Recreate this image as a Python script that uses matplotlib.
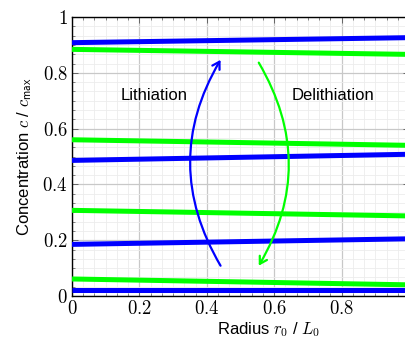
import matplotlib
matplotlib.use("Agg")
import matplotlib.pyplot as plt
from matplotlib.patches import FancyArrowPatch
from matplotlib.ticker import MultipleLocator, AutoMinorLocator

# radius positions and concentration profiles (c / c_max)
radius = [0.0, 1.0]
lithiation = [
    [0.908, 0.926],
    [0.486, 0.508],
    [0.185, 0.205],
    [0.020, 0.020],
]
delithiation = [
    [0.884, 0.866],
    [0.560, 0.540],
    [0.307, 0.287],
    [0.061, 0.040],
]

plt.rcParams['font.family'] = ['Liberation Sans', 'DejaVu Sans']
plt.rcParams['mathtext.fontset'] = 'cm'

fig = plt.figure(figsize=(4.06, 3.40), dpi=100)
ax = fig.add_axes([72 / 406, 44 / 340, 337 / 406, 279 / 340])

for prof in delithiation:
    ax.plot(radius, prof, color='#00ff00', lw=3.6, solid_capstyle='butt', zorder=3)
for prof in lithiation:
    ax.plot(radius, prof, color='#0000ff', lw=3.6, solid_capstyle='butt', zorder=3)

ax.set_xlim(0, 1)
ax.set_ylim(0, 1)
ax.xaxis.set_major_locator(MultipleLocator(0.2))
ax.yaxis.set_major_locator(MultipleLocator(0.2))
ax.xaxis.set_minor_locator(AutoMinorLocator(6))
ax.yaxis.set_minor_locator(AutoMinorLocator(6))
ax.grid(which='major', color='#c8c8c8', lw=0.9, zorder=0)
ax.grid(which='minor', color='#ececec', lw=0.6, zorder=0)
ax.tick_params(which='both', direction='in', top=True, right=True, color='#555555')
ax.tick_params(which='major', length=4, width=0.6)
ax.tick_params(which='minor', length=2.5, width=0.5)

fmt = lambda v, p: r'$\mathrm{%g}$' % round(v, 1)
ax.xaxis.set_major_formatter(plt.FuncFormatter(fmt))
ax.yaxis.set_major_formatter(plt.FuncFormatter(fmt))
for lab in ax.get_xticklabels() + ax.get_yticklabels():
    lab.set_fontsize(13.5)
ax.tick_params(axis='x', pad=3)
ax.tick_params(axis='y', pad=3)

for sp in ax.spines.values():
    sp.set_linewidth(1.0)

ax.set_xlabel(r'Radius $r_0$ / $L_0$', fontsize=12)
ax.xaxis.set_label_coords(0.585, -0.085)
ax.set_ylabel(r'Concentration $c$ / $c_{\mathsf{max}}$', fontsize=12, labelpad=6)

ax.text(0.245, 0.717, 'Lithiation', fontsize=12, ha='center', va='center')
ax.text(0.775, 0.717, 'Delithiation', fontsize=12, ha='center', va='center')

ax.add_patch(FancyArrowPatch((0.445, 0.10), (0.445, 0.855),
                             connectionstyle='arc3,rad=-0.3', arrowstyle='->,head_length=5,head_width=3',
                             color='#0000ff', lw=1.6, zorder=4))
ax.add_patch(FancyArrowPatch((0.55, 0.845), (0.55, 0.10),
                             connectionstyle='arc3,rad=-0.3', arrowstyle='->,head_length=5,head_width=3',
                             color='#00ff00', lw=1.6, zorder=4))

fig.savefig('out.png', dpi=100)
